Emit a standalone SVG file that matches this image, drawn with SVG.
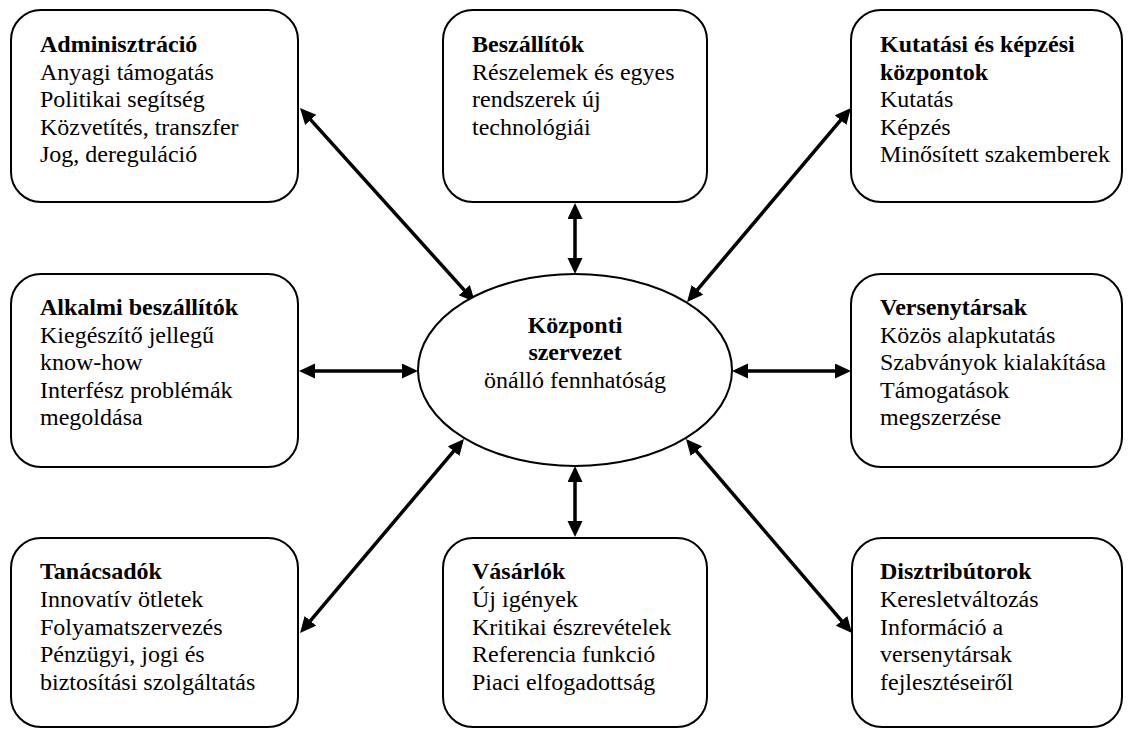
<svg xmlns="http://www.w3.org/2000/svg" width="1133" height="729" viewBox="0 0 1133 729">
  <style>
    .box { fill: #fff; stroke: #000; stroke-width: 2; }
    .t { font-size: 24px; fill: #000; }
    .b { font-weight: bold; }
    .c { text-anchor: middle; }
    .arrow { stroke: #000; stroke-width: 3.5; fill: none; marker-start: url(#head); marker-end: url(#head); }
  </style>
  <defs>
    <marker id="head" markerUnits="userSpaceOnUse" markerWidth="18" markerHeight="16" refX="6" refY="7.5" orient="auto-start-reverse">
      <path d="M0,0 L16,7.5 L0,15 z" fill="#000"/>
    </marker>
  </defs>
  <rect width="1133" height="729" fill="#fff"/>

  <g id="connectors">
    <line class="arrow" x1="306.7" y1="115.4" x2="468.3" y2="294.6"/>
    <line class="arrow" x1="575" y1="213" x2="575" y2="264"/>
    <line class="arrow" x1="844.5" y1="115.6" x2="693.5" y2="294.4"/>
    <line class="arrow" x1="309" y1="371" x2="408" y2="371"/>
    <line class="arrow" x1="742" y1="371" x2="841" y2="371"/>
    <line class="arrow" x1="306.5" y1="625.4" x2="457.5" y2="446.6"/>
    <line class="arrow" x1="575" y1="476" x2="575" y2="527"/>
    <line class="arrow" x1="845.5" y1="625.4" x2="692.5" y2="446.6"/>
  </g>

  <g id="adminisztracio">
    <rect class="box" x="11" y="10" width="287" height="192" rx="30"/>
    <text class="t b" font-family="Liberation Serif" x="40" y="52">Adminisztráció</text>
    <text class="t" font-family="Liberation Serif" x="40" y="79.5">Anyagi támogatás</text>
    <text class="t" font-family="Liberation Serif" x="40" y="107">Politikai segítség</text>
    <text class="t" font-family="Liberation Serif" x="40" y="134.5">Közvetítés, transzfer</text>
    <text class="t" font-family="Liberation Serif" x="40" y="162">Jog, dereguláció</text>
  </g>

  <g id="beszallitok">
    <rect class="box" x="443" y="10" width="264" height="192" rx="30"/>
    <text class="t b" font-family="Liberation Serif" x="472" y="52">Beszállítók</text>
    <text class="t" font-family="Liberation Serif" x="472" y="79.5">Részelemek és egyes</text>
    <text class="t" font-family="Liberation Serif" x="472" y="107">rendszerek új</text>
    <text class="t" font-family="Liberation Serif" x="472" y="134.5">technológiái</text>
  </g>

  <g id="kutatasi">
    <rect class="box" x="851" y="10" width="271" height="192" rx="30"/>
    <text class="t b" font-family="Liberation Serif" x="880" y="52">Kutatási és képzési</text>
    <text class="t b" font-family="Liberation Serif" x="880" y="79.5">központok</text>
    <text class="t" font-family="Liberation Serif" x="880" y="107">Kutatás</text>
    <text class="t" font-family="Liberation Serif" x="880" y="134.5">Képzés</text>
    <text class="t" font-family="Liberation Serif" x="880" y="162">Minősített szakemberek</text>
  </g>

  <g id="alkalmi">
    <rect class="box" x="11" y="274" width="287" height="193" rx="30"/>
    <text class="t b" font-family="Liberation Serif" x="40" y="315">Alkalmi beszállítók</text>
    <text class="t" font-family="Liberation Serif" x="40" y="342.6">Kiegészítő jellegű</text>
    <text class="t" font-family="Liberation Serif" x="40" y="370.2">know-how</text>
    <text class="t" font-family="Liberation Serif" x="40" y="397.8">Interfész problémák</text>
    <text class="t" font-family="Liberation Serif" x="40" y="425.4">megoldása</text>
  </g>

  <g id="kozponti">
    <ellipse class="box" cx="575" cy="370" rx="157" ry="96"/>
    <text class="t b c" font-family="Liberation Serif" x="575" y="333">Központi</text>
    <text class="t b c" font-family="Liberation Serif" x="575" y="360">szervezet</text>
    <text class="t c" font-family="Liberation Serif" x="575" y="387.5">önálló fennhatóság</text>
  </g>

  <g id="versenytarsak">
    <rect class="box" x="851" y="274" width="271" height="193" rx="30"/>
    <text class="t b" font-family="Liberation Serif" x="880" y="315">Versenytársak</text>
    <text class="t" font-family="Liberation Serif" x="880" y="342.6">Közös alapkutatás</text>
    <text class="t" font-family="Liberation Serif" x="880" y="370.2">Szabványok kialakítása</text>
    <text class="t" font-family="Liberation Serif" x="880" y="397.8">Támogatások</text>
    <text class="t" font-family="Liberation Serif" x="880" y="425.4">megszerzése</text>
  </g>

  <g id="tanacsadok">
    <rect class="box" x="11" y="538" width="287" height="189" rx="30"/>
    <text class="t b" font-family="Liberation Serif" x="40" y="579.3">Tanácsadók</text>
    <text class="t" font-family="Liberation Serif" x="40" y="607">Innovatív ötletek</text>
    <text class="t" font-family="Liberation Serif" x="40" y="634.6">Folyamatszervezés</text>
    <text class="t" font-family="Liberation Serif" x="40" y="662.3">Pénzügyi, jogi és</text>
    <text class="t" font-family="Liberation Serif" x="40" y="690">biztosítási szolgáltatás</text>
  </g>

  <g id="vasarlok">
    <rect class="box" x="443" y="538" width="264" height="189" rx="30"/>
    <text class="t b" font-family="Liberation Serif" x="472" y="579.3">Vásárlók</text>
    <text class="t" font-family="Liberation Serif" x="472" y="607">Új igények</text>
    <text class="t" font-family="Liberation Serif" x="472" y="634.6">Kritikai észrevételek</text>
    <text class="t" font-family="Liberation Serif" x="472" y="662.3">Referencia funkció</text>
    <text class="t" font-family="Liberation Serif" x="472" y="690">Piaci elfogadottság</text>
  </g>

  <g id="disztributorok">
    <rect class="box" x="852" y="538" width="270" height="189" rx="30"/>
    <text class="t b" font-family="Liberation Serif" x="880" y="579.3">Disztribútorok</text>
    <text class="t" font-family="Liberation Serif" x="880" y="607">Keresletváltozás</text>
    <text class="t" font-family="Liberation Serif" x="880" y="634.6">Információ a</text>
    <text class="t" font-family="Liberation Serif" x="880" y="662.3">versenytársak</text>
    <text class="t" font-family="Liberation Serif" x="880" y="690">fejlesztéseiről</text>
  </g>
</svg>
